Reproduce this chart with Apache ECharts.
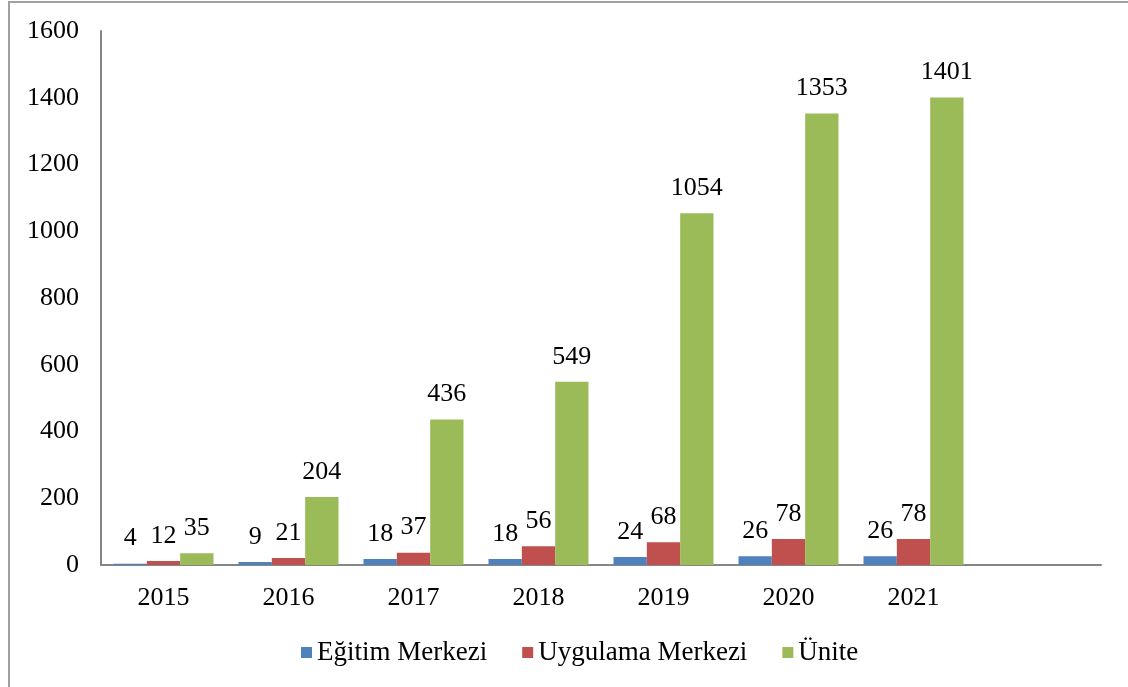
<!DOCTYPE html>
<html>
<head>
<meta charset="utf-8">
<script src="https://cdn.jsdelivr.net/npm/echarts@6/dist/echarts.min.js"></script>
<style>
  html, body { margin: 0; padding: 0; background: #fff; }
  #frame {
    position: absolute; left: 8px; top: 1px; width: 1200px; height: 800px;
    border-left: 2px solid #a0a0a0; border-top: 2px solid #a0a0a0;
  }
  #chart { position: absolute; left: 0; top: 0; width: 1128px; height: 687px; }
</style>
</head>
<body>
<div id="frame"></div>
<div id="chart"></div>
<script>
// years, last slot is empty like the original
const years = ['2015', '2016', '2017', '2018', '2019', '2020', '2021', '']
const egitim = [4, 9, 18, 18, 24, 26, 26]
const uygulama = [12, 21, 37, 56, 68, 78, 78]
const unite = [35, 204, 436, 549, 1054, 1353, 1401]
const seriesNames = ['Eğitim Merkezi', 'Uygulama Merkezi', 'Ünite']
const colors = ['#4f81bd', '#c0504d', '#9bbb59']

const font = 'Liberation Serif, Times New Roman, serif'
const chart = echarts.init(document.getElementById('chart'))

function bar(name, data, color) {
  return {
    name: name,
    type: 'bar',
    data: data,
    barGap: '0%',
    barCategoryGap: '20%',
    itemStyle: { color: color },
    label: {
      show: true,
      position: 'top',
      distance: 12,
      color: '#000',
      fontFamily: font,
      fontSize: 26
    }
  }
}

chart.setOption({
  animation: false,
  color: colors,
  grid: { left: 101, right: 27, top: 31, bottom: 122, containLabel: false },
  legend: {
    top: 634,
    left: 296,
    icon: 'rect',
    itemWidth: 11,
    itemHeight: 11,
    itemGap: 35,
    textStyle: { fontFamily: font, fontSize: 27, color: '#000' },
    data: seriesNames
  },
  xAxis: {
    type: 'category',
    data: years,
    axisLine: { lineStyle: { color: '#868686', width: 2 } },
    axisTick: { show: false },
    axisLabel: { color: '#000', fontFamily: font, fontSize: 26, margin: 20 }
  },
  yAxis: {
    type: 'value',
    min: 0,
    max: 1600,
    interval: 200,
    axisLine: { show: true, lineStyle: { color: '#868686', width: 2 } },
    axisTick: { show: false },
    splitLine: { show: false },
    axisLabel: {
      color: '#000', fontFamily: font, fontSize: 26, margin: 22,
      formatter: v => String(v)
    }
  },
  series: [
    bar(seriesNames[0], egitim, colors[0]),
    bar(seriesNames[1], uygulama, colors[1]),
    bar(seriesNames[2], unite, colors[2])
  ]
})
</script>
</body>
</html>
